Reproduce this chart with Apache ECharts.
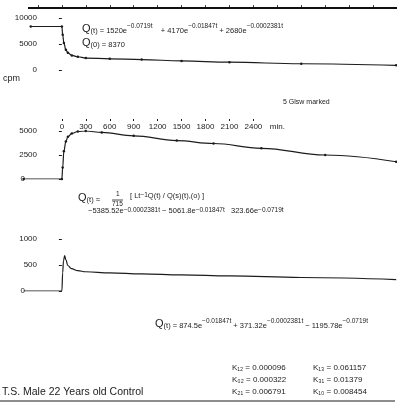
<!DOCTYPE html>
<html>
<head>
<meta charset="utf-8">
<script src="https://cdn.jsdelivr.net/npm/echarts@6/dist/echarts.min.js"></script>
<style>
    html, body { margin: 0; padding: 0; background: #fff; }
    #chart { width: 397px; height: 412px; }
</style>
</head>
<body>
<div id="chart"></div>
<script>
    // time axis (min)
    var timeTicks = [0, 300, 600, 900, 1200, 1500, 1800, 2100, 2400]
    var frameTicks = [-300, 0, 300, 600, 900, 1200, 1500, 1800, 2100, 2400, 2700, 3000, 3300, 3600, 3900]
    var minLabelAt = 2700  // where the "min." unit label sits

    // top panel: total counts (cpm)
    var t1 = [-390, 0, 10, 25, 50, 75, 125, 200, 300, 600, 1000, 1500, 2100, 3000, 4190]
    var q1 = [8370, 8370, 6800, 5200, 3900, 3300, 2800, 2550, 2300, 2150, 2000, 1750, 1500, 1200, 900]

    // middle panel: marked compartment
    var t2 = [-480, 0, 10, 25, 50, 75, 125, 200, 300, 500, 900, 1440, 1900, 2500, 3300, 4190]
    var q2 = [0, 0, 1200, 2900, 3900, 4400, 4750, 4950, 5000, 4850, 4500, 4000, 3700, 3200, 2500, 1800]

    // bottom panel
    var t3 = [-480, 0, 10, 20, 35, 50, 75, 120, 200, 300, 600, 1000, 1500, 2100, 3000, 4190]
    var q3 = [0, 0, 350, 580, 680, 600, 490, 430, 390, 370, 350, 330, 310, 290, 260, 220]

    var yMax = [10000, 5000, 1000]
    var yStep = [5000, 2500, 500]

    var FONT = "'Liberation Sans Narrow', 'Liberation Sans', sans-serif"
    var INK = '#1c1c1c'

    function pairs(t, q) {
        return t.map(function (v, i) { return [v, q[i]] })
    }

    // exponent-style rich text
    var eqRich = {
        q: { fontSize: 11, lineHeight: 12, fontFamily: FONT, fill: INK },
        s: { fontSize: 7.5, lineHeight: 8, verticalAlign: 'bottom', fontFamily: FONT, fill: INK },
        e: { fontSize: 6.5, lineHeight: 7, verticalAlign: 'top', fontFamily: FONT, fill: INK }
    }

    function txt(left, top, text, size, rich) {
        var style = { text: text, fill: INK, font: size + 'px ' + FONT }
        if (rich) style.rich = eqRich
        return { type: 'text', left: left, top: top, silent: true, style: style }
    }

    function yAx(i, zeroLeft) {
        return {
            type: 'value', gridIndex: i, min: 0, max: yMax[i], interval: yStep[i], offset: -27,
            axisLine: { show: false },
            axisTick: { show: true, length: 3, lineStyle: { color: INK } },
            splitLine: { show: false },
            axisLabel: {
                color: INK, fontSize: 8, fontFamily: FONT, margin: 4,
                formatter: function (v) { return (zeroLeft && v === 0) ? '{z|0}' : String(v) },
                rich: { z: { padding: [0, 12, 0, 0], fontSize: 8, color: INK, fontFamily: FONT } }
            }
        }
    }

    function hiddenX(i) {
        return { type: 'value', gridIndex: i, min: -600, max: 4200, show: false }
    }
    function hiddenY(i) {
        return { type: 'value', gridIndex: i, min: 0, max: 1, show: false }
    }

    function curve(i, data, dots) {
        return {
            type: 'line', xAxisIndex: i, yAxisIndex: i, data: data,
            smooth: 0.4, smoothMonotone: 'x',
            symbol: 'circle', symbolSize: 2.5, showSymbol: dots,
            lineStyle: { color: INK, width: 1.2 },
            itemStyle: { color: INK }
        }
    }

    var option = {
        animation: false,
        backgroundColor: '#fff',
        grid: [
            { left: 14, width: 384, top: 18, height: 52 },
            { left: 14, width: 384, top: 131, height: 48 },
            { left: 14, width: 384, top: 239, height: 52 },
            { left: 14, width: 384, top: 3, height: 5 },     // top frame ticks
            { left: 14, width: 384, top: 114, height: 5 }    // labelled time axis
        ],
        xAxis: [
            hiddenX(0), hiddenX(1), hiddenX(2),
            {
                type: 'value', gridIndex: 3, min: -600, max: 4200, position: 'bottom',
                axisLine: { show: false, onZero: false },
                axisTick: { show: true, inside: true, length: 3, customValues: frameTicks, lineStyle: { color: '#444' } },
                axisLabel: { show: false }, splitLine: { show: false }
            },
            {
                type: 'value', gridIndex: 4, min: -600, max: 4200, position: 'bottom',
                axisLine: { show: false, onZero: false }, splitLine: { show: false },
                axisTick: { show: true, length: 2, customValues: timeTicks, lineStyle: { color: INK } },
                axisLabel: {
                    customValues: timeTicks.concat([minLabelAt]), margin: 4,
                    fontSize: 8, color: INK, fontFamily: FONT,
                    formatter: function (v) { return v === minLabelAt ? 'min.' : String(v) }
                }
            }
        ],
        yAxis: [yAx(0, false), yAx(1, true), yAx(2, true), hiddenY(3), hiddenY(4)],
        series: [
            curve(0, pairs(t1, q1), true),
            curve(1, pairs(t2, q2), true),
            curve(2, pairs(t3, q3), false)
        ],
        graphic: [
            // top frame rule
            { type: 'rect', silent: true, z: 10, shape: { x: 28, y: 7, width: 369, height: 2 }, style: { fill: '#111' } },

            txt(82, 23, '{q|Q}{s|(t) = 1520e}{e|\u22120.0719t}{s|    + 4170e}{e|\u22120.01847t}{s| + 2680e}{e|\u22120.0002381t}', 8, true),
            txt(82, 37, '{q|Q}{s|(0) = 8370}', 8, true),
            txt(3, 74, 'cpm', 9),
            txt(283, 99, '5 Glsw marked', 7),

            txt(78, 192, '{q|Q}{s|(t) \u2248}', 8, true),
            txt(116, 191, '1', 6.5),
            { type: 'line', silent: true, shape: { x1: 112, y1: 200, x2: 123, y2: 200 }, style: { stroke: INK, lineWidth: 0.8 } },
            txt(112, 201, '715', 6.5),
            txt(130, 192, '{s|[ Lt}{e|\u22121}{s|Q(t) / Q(s)(t),(o) ]}', 8, true),
            txt(88, 207, '{s|\u22125385.52e}{e|\u22120.0002381t}{s| \u2212 5061.8e}{e|\u22120.01847t}{s|   323.66e}{e|\u22120.0719t}', 8, true),

            txt(155, 318, '{q|Q}{s|(t) = 874.5e}{e|\u22120.01847t}{s| + 371.32e}{e|\u22120.0002381t}{s| \u2212 1195.78e}{e|\u22120.0719t}', 8, true),

            txt(232, 364, 'K\u2081\u2082 = 0.000096', 8),
            txt(232, 376, 'K\u2080\u2082 = 0.000322', 8),
            txt(232, 388, 'K\u2082\u2081 = 0.006791', 8),
            txt(313, 364, 'K\u2081\u2083 = 0.061157', 8),
            txt(313, 376, 'K\u2083\u2081 = 0.01379', 8),
            txt(313, 388, 'K\u2081\u2080 = 0.008454', 8),
            txt(2, 387, 'T.S. Male 22 Years old Control', 10.5),
            { type: 'line', silent: true, shape: { x1: 0, y1: 401, x2: 395, y2: 401 }, style: { stroke: INK, lineWidth: 1.2 } }
        ]
    }

    var chart = echarts.init(document.getElementById('chart'), null, { renderer: 'canvas' })
    chart.setOption(option)
</script>
</body>
</html>
